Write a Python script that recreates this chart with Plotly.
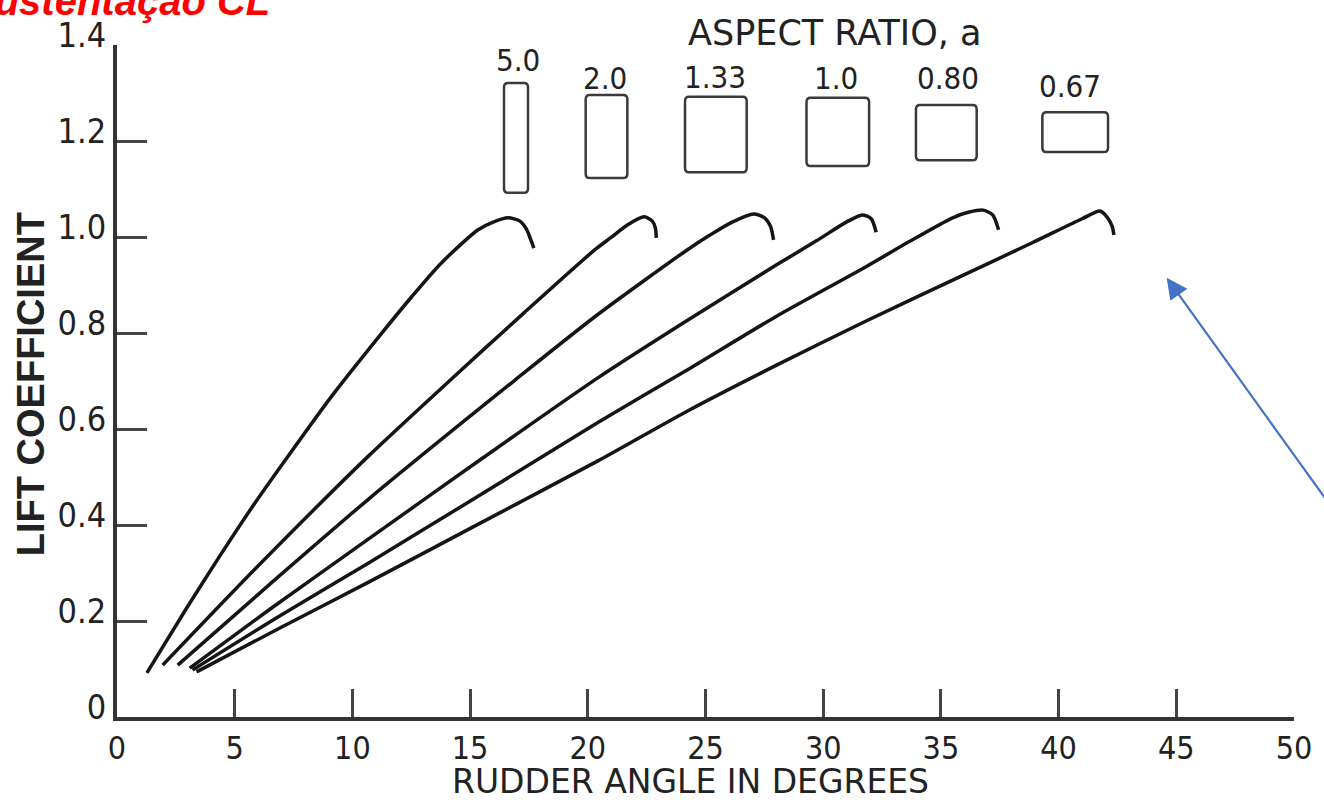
import plotly.graph_objects as go

# ---------------- data ----------------
aspect_labels = ["5.0", "2.0", "1.33", "1.0", "0.80", "0.67"]

angle_ar50 = [1.27, 2.96, 4.35, 5.75, 7.19, 9.13, 11.12, 12.51, 13.78, 15.34, 15.98, 16.61, 17.12, 17.41, 17.58, 17.71]
cl_ar50 = [0.092, 0.227, 0.334, 0.438, 0.538, 0.669, 0.792, 0.875, 0.946, 1.015, 1.031, 1.040, 1.033, 1.015, 0.994, 0.977]

angle_ar20 = [1.94, 6.00, 10.69, 14.07, 17.29, 20.29, 20.96, 21.68, 22.40, 22.74, 22.87, 22.91]
cl_ar20 = [0.108, 0.315, 0.544, 0.698, 0.842, 0.973, 0.998, 1.025, 1.042, 1.033, 1.019, 0.998]

angle_ar133 = [2.58, 6.64, 10.69, 16.91, 20.41, 24.22, 25.19, 26.13, 27.05, 27.51, 27.77, 27.89]
cl_ar133 = [0.108, 0.283, 0.454, 0.702, 0.838, 0.973, 1.004, 1.031, 1.048, 1.040, 1.021, 0.994]

angle_ar10 = [3.09, 6.51, 10.69, 15.55, 20.41, 24.22, 28.02, 29.71, 30.98, 31.66, 32.04, 32.25]
cl_ar10 = [0.102, 0.225, 0.371, 0.540, 0.706, 0.826, 0.942, 0.992, 1.031, 1.046, 1.038, 1.010]

angle_ar080 = [3.21, 6.89, 10.69, 15.51, 20.41, 24.22, 28.02, 31.78, 33.64, 35.50, 36.20, 36.80, 37.20, 37.45]
cl_ar080 = [0.098, 0.210, 0.321, 0.465, 0.613, 0.723, 0.835, 0.937, 0.990, 1.040, 1.052, 1.056, 1.046, 1.015]

angle_ar067 = [3.38, 7.02, 10.69, 15.51, 20.41, 24.22, 28.02, 31.78, 35.50, 38.88, 41.00, 41.76, 42.05, 42.27, 42.35]
cl_ar067 = [0.094, 0.188, 0.281, 0.406, 0.533, 0.637, 0.733, 0.824, 0.910, 0.988, 1.038, 1.054, 1.042, 1.023, 1.004]

x_ticks = [0, 5, 10, 15, 20, 25, 30, 35, 40, 45, 50]
y_ticks = [0, 0.2, 0.4, 0.6, 0.8, 1.0, 1.2, 1.4]
y_ticktext = ["0", "0.2", "0.4", "0.6", "0.8", "1.0", "1.2", "1.4"]

# ---------------- style / layout ----------------
NARROW = "Liberation Sans Narrow, DejaVu Sans Condensed, Liberation Sans, sans-serif"
WIDE = "DejaVu Sans, Liberation Sans, sans-serif"
INK = "#151515"

series = [
    (angle_ar50, cl_ar50), (angle_ar20, cl_ar20), (angle_ar133, cl_ar133),
    (angle_ar10, cl_ar10), (angle_ar080, cl_ar080), (angle_ar067, cl_ar067),
]

fig = go.Figure()
for lab, (xs, ys) in zip(aspect_labels, series):
    fig.add_trace(go.Scatter(
        x=xs, y=ys, mode="lines", name=lab,
        line=dict(color=INK, width=3.5, shape="spline", smoothing=0.7),
        hoverinfo="x+y+name", showlegend=False,
    ))

# planform icons (x0, x1, y0, y1) in axis units - decoration for the legend
icon_boxes = [
    (16.44, 17.46, 1.092, 1.321),
    (19.91, 21.68, 1.123, 1.296),
    (24.13, 26.75, 1.135, 1.292),
    (29.29, 31.95, 1.148, 1.290),
    (33.94, 36.52, 1.160, 1.275),
    (39.31, 42.10, 1.177, 1.260),
]
icon_label_pos = [(17.03, 1.369), (20.75, 1.331), (25.4, 1.333),
                  (30.56, 1.331), (35.29, 1.331), (40.49, 1.315)]

rx, ry = 0.17, 0.009
shapes = []
for (x0, x1, y0, y1) in icon_boxes:
    p = (f"M {x0+rx},{y0} L {x1-rx},{y0} Q {x1},{y0} {x1},{y0+ry} "
         f"L {x1},{y1-ry} Q {x1},{y1} {x1-rx},{y1} L {x0+rx},{y1} "
         f"Q {x0},{y1} {x0},{y1-ry} L {x0},{y0+ry} Q {x0},{y0} {x0+rx},{y0} Z")
    shapes.append(dict(type="path", path=p, xref="x", yref="y",
                       line=dict(color="#3a3a3a", width=2.5)))

annotations = []
for lab, (lx, ly) in zip(aspect_labels, icon_label_pos):
    annotations.append(dict(x=lx, y=ly, xref="x", yref="y", text=lab,
                            xanchor="center", yanchor="middle", showarrow=False,
                            font=dict(family=NARROW, size=31, color="#222")))

annotations += [
    dict(x=0.6095, y=1.018, xref="paper", yref="paper", text="ASPECT RATIO, a",
         xanchor="center", yanchor="middle", showarrow=False,
         font=dict(family=WIDE, size=35, color="#222")),
    dict(x=0.487, y=-0.0955, xref="paper", yref="paper", text="RUDDER ANGLE IN DEGREES",
         xanchor="center", yanchor="middle", showarrow=False,
         font=dict(family=WIDE, size=33, color="#222")),
    dict(x=-0.0735, y=0.496, xref="paper", yref="paper", text="<b>LIFT COEFFICIENT</b>",
         xanchor="center", yanchor="middle", textangle=-90, showarrow=False,
         font=dict(family="Liberation Sans, Arial, sans-serif", size=38, color="#222")),
    dict(x=0.132, y=1.03, xref="paper", yref="paper", xanchor="right", yanchor="bottom",
         text="<b><i>Sustentação CL</i></b>", showarrow=False,
         font=dict(family="Liberation Sans, Arial, sans-serif", size=40, color="#FF0000")),
    dict(x=44.59, y=0.915, xref="x", yref="y", ax=51.7, ay=0.43, axref="x", ayref="y",
         text="", showarrow=True, arrowhead=2, arrowsize=1.9, arrowwidth=2.2,
         arrowcolor="#4472C4"),
]

fig.update_layout(
    width=1324, height=800,
    margin=dict(l=117, r=22, t=45, b=83),
    paper_bgcolor="white", plot_bgcolor="white",
    shapes=shapes, annotations=annotations,
    xaxis=dict(range=[0, 50], tickvals=x_ticks, ticks="inside", ticklen=28, tickwidth=2.5,
               tickcolor="#444", showline=True, linewidth=4, linecolor="#333",
               showgrid=False, zeroline=False,
               tickfont=dict(family=NARROW, size=32, color="#222")),
    yaxis=dict(range=[0, 1.4], tickvals=y_ticks, ticktext=y_ticktext, ticks="inside",
               ticklen=30, tickwidth=2.5, tickcolor="#444", showline=True, linewidth=4,
               linecolor="#333", showgrid=False, zeroline=False, ticklabelshift=-10,
               tickfont=dict(family=NARROW, size=34, color="#222")),
)

fig.write_html("out.html", config={"displayModeBar": False},
               post_script="document.body.style.margin='0px';")
